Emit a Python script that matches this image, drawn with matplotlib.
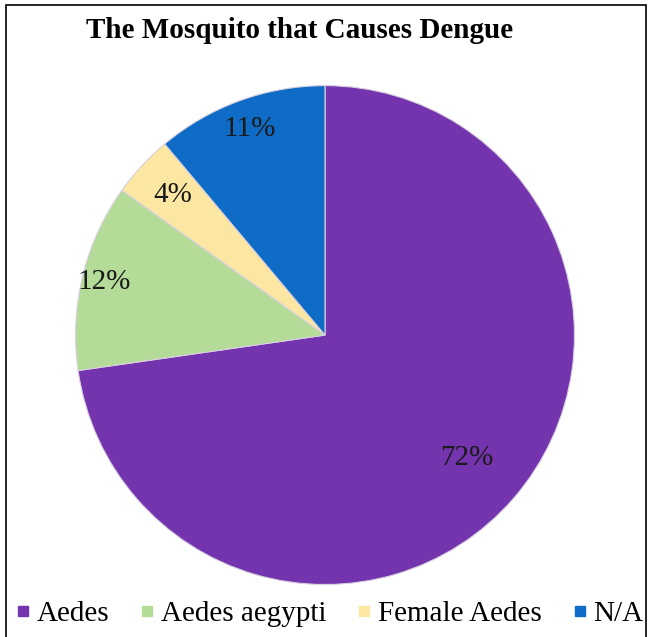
import numpy as np
import matplotlib.pyplot as plt
from matplotlib.lines import Line2D
from matplotlib.patches import Rectangle

plt.rcParams['font.family'] = ['Liberation Serif', 'DejaVu Serif']

# Survey answers (percent)
labels = ['Aedes', 'Aedes aegypti', 'Female Aedes', 'N/A']
values = [72, 12, 4, 11]
colors = ['#7434AE', '#B4DC98', '#FCE7A2', '#0F6CC6']
label_dist = [0.75, 0.91, 0.83, 0.88]

fig = plt.figure(figsize=(6.52, 6.37), dpi=100)
ax = fig.add_axes([0.112, 0.0785, 0.773, 0.791])

wedges, texts, pcts = ax.pie(values, colors=colors, startangle=90, counterclock=False,
                             autopct=lambda p: '%d%%' % round(p * sum(values) / 100),
                             pctdistance=0.8, radius=1,
                             wedgeprops=dict(edgecolor='#d8d0e0', linewidth=0.8),
                             textprops=dict(fontsize=21, color='#1a1a1a'))

# push each percentage to its own radius
for w, t, d in zip(wedges, pcts, label_dist):
    a = np.deg2rad((w.theta1 + w.theta2) / 2)
    t.set_position((d * np.cos(a), d * np.sin(a)))

ax.set_xlim(-1.01, 1.01)
ax.set_ylim(-1.01, 1.01)
ax.set_aspect('equal')

fig.text(0.459, 0.952, 'The Mosquito that Causes Dengue', ha='center', va='center',
         fontsize=21, fontweight='bold')

handles = [Line2D([], [], marker='s', linestyle='none', markersize=7,
                  markerfacecolor=c, markeredgecolor=c) for c in colors]
fig.legend(handles, labels, loc='center', bbox_to_anchor=(0.507, 0.036), ncol=4,
           frameon=False, fontsize=21, handlelength=0.35, handletextpad=0.3,
           columnspacing=1.12, borderaxespad=0, borderpad=0)

fig.add_artist(Rectangle((6 / 652, -0.01), 640 / 652, 1 - 5 / 637 + 0.01,
                         transform=fig.transFigure, fill=False,
                         edgecolor='black', linewidth=1.2))

fig.savefig('out.png', dpi=100)
